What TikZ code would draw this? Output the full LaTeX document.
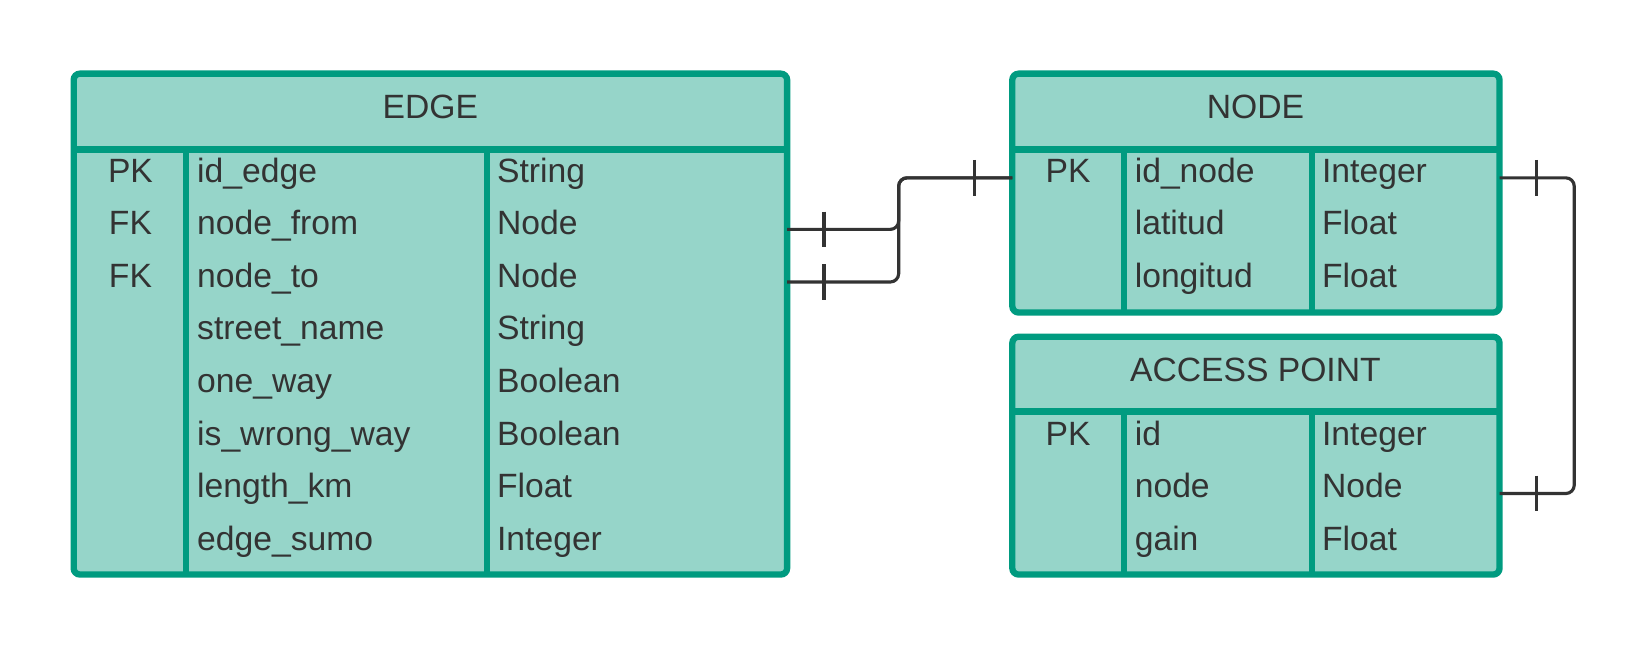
\documentclass[tikz,border=0pt]{standalone}
\usepackage{fontspec}
\setmainfont{Liberation Sans}
\definecolor{tealfill}{HTML}{96D5C9}
\definecolor{tealline}{HTML}{009B80}
\definecolor{ink}{HTML}{333333}
\tikzset{
  table/.style={draw=tealline, fill=tealfill, line width=3pt, rounded corners=3pt},
  rule/.style={draw=tealline, line width=3pt},
  txt/.style={text=ink, inner sep=0pt, font=\fontsize{16}{19}\selectfont},
  key/.style={txt, anchor=base},
  field/.style={txt, anchor=base west},
  link/.style={draw=ink, line width=1.5pt, rounded corners=4pt},
  bar/.style={draw=ink, line width=1.5pt},
}
\begin{document}
\begin{tikzpicture}[x=0.5pt,y=-0.5pt]
      \useasboundingbox (0,0) rectangle (1568,619);
      % EDGE
      \draw[table] (70,70) rectangle (748,546);
      \draw[rule] (70,142) -- (748,142);
      \draw[rule] (177,142) -- (177,546);
      \draw[rule] (463,142) -- (463,546);
      % NODE
      \draw[table] (962,70) rectangle (1425,297);
      \draw[rule] (962,142) -- (1425,142);
      \draw[rule] (1068,142) -- (1068,297);
      \draw[rule] (1247,142) -- (1247,297);
      % ACCESS POINT
      \draw[table] (962,320) rectangle (1425,546);
      \draw[rule] (962,391) -- (1425,391);
      \draw[rule] (1068,391) -- (1068,546);
      \draw[rule] (1247,391) -- (1247,546);
      \draw
        (409,113) node[key] (edge){EDGE}
        (124,173) node[key] (edgepk){PK}
        (124,223) node[key] (edgefk1){FK}
        (124,273) node[key] (edgefk2){FK}
        (187,173) node[field] (e1){id\_edge}
        (187,223) node[field] (e2){node\_from}
        (187,273) node[field] (e3){node\_to}
        (187,323) node[field] (e4){street\_name}
        (187,373) node[field] (e5){one\_way}
        (187,423) node[field] (e6){is\_wrong\_way}
        (187,473) node[field] (e7){length\_km}
        (187,523) node[field] (e8){edge\_sumo}
        (472,173) node[field] (t1){String}
        (472,223) node[field] (t2){Node}
        (472,273) node[field] (t3){Node}
        (472,323) node[field] (t4){String}
        (472,373) node[field] (t5){Boolean}
        (472,423) node[field] (t6){Boolean}
        (472,473) node[field] (t7){Float}
        (472,523) node[field] (t8){Integer};
      \draw
        (1193,113) node[key] (node){NODE}
        (1015,173) node[key] (nodepk){PK}
        (1078,173) node[field] (n1){id\_node}
        (1078,223) node[field] (n2){latitud}
        (1078,273) node[field] (n3){longitud}
        (1256,173) node[field] (nt1){Integer}
        (1256,223) node[field] (nt2){Float}
        (1256,273) node[field] (nt3){Float};
      \draw
        (1193,363) node[key] (ap){ACCESS POINT}
        (1015,423) node[key] (appk){PK}
        (1078,423) node[field] (a1){id}
        (1078,473) node[field] (a2){node}
        (1078,523) node[field] (a3){gain}
        (1256,423) node[field] (at1){Integer}
        (1256,473) node[field] (at2){Node}
        (1256,523) node[field] (at3){Float};
      % ports
      \coordinate (edgefrom) at (748,218);
      \coordinate (edgeto) at (748,268);
      \coordinate (nodeidl) at (962,169);
      \coordinate (nodeidr) at (1425,169);
      \coordinate (apnode) at (1425,469);
      \begin{scope}
        \draw[link] (edgefrom) -- (854,218) -- (854,169) -- (nodeidl);
        \draw[link] (edgeto) -- (854,268) -- (854,169) -- (nodeidl);
        \draw[link] (nodeidr) -- (1496,169) -- (1496,469) -- (apnode);
        \draw[bar] (783,201) -- (783,235);
        \draw[bar] (783,251) -- (783,285);
        \draw[bar] (926,152) -- (926,186);
        \draw[bar] (1460,152) -- (1460,186);
        \draw[bar] (1460,452) -- (1460,486);
      \end{scope}
    \end{tikzpicture}
\end{document}
